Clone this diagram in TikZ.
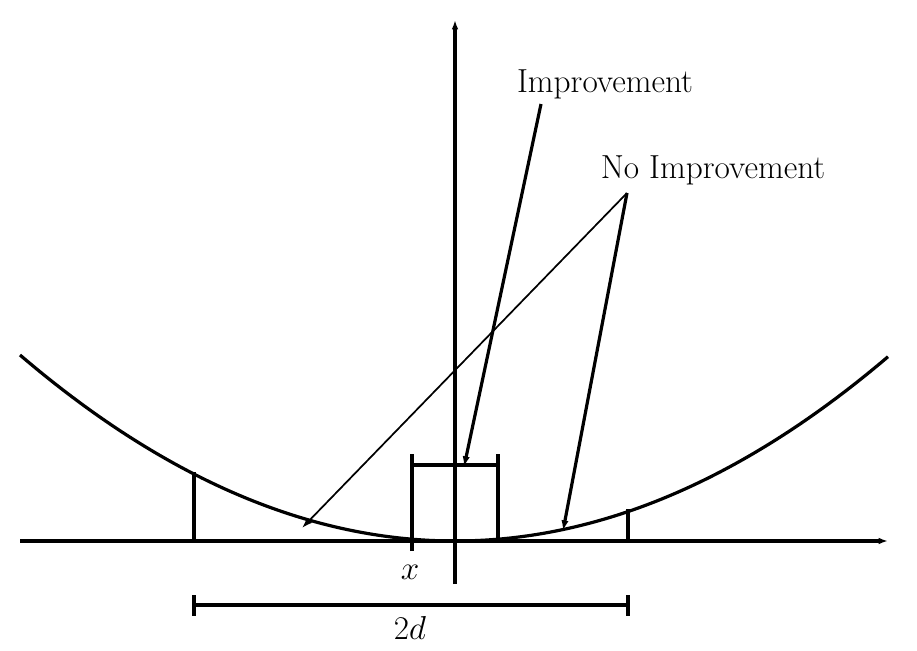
\documentclass[tikz,border=0pt]{standalone}
\usetikzlibrary{arrows.meta}
\begin{document}
\begin{tikzpicture}[x=0.75pt,y=-0.75pt,
  thickln/.style={line width=2.4pt},
  thinln/.style={line width=1.3pt},
  tip/.style={-{Latex[length=8pt,width=5.5pt]}},
  lbl/.style={inner sep=0pt,font=\fontsize{25}{30}\selectfont},
  mlbl/.style={inner sep=0pt,font=\fontsize{23.5}{28}\selectfont}]
\useasboundingbox (0,0) rectangle (917,650);
% axes
\draw[thickln,-{Latex[length=7pt,width=5pt]}] (20,541) -- (888,541);
\draw[thickln,-{Latex[length=7pt,width=5pt]}] (455,584) -- (455,20);
% parabola
\draw[thickln] plot[domain=20:888,samples=120] (\x,{541-186*((\x-455)/435)^2});
% verticals at +-d
\draw[thickln] (194,541) -- (194,472);
\draw[thickln] (628,541) -- (628,509);
% box
\draw[thickln] (412,551) -- (412,454);
\draw[thickln] (498,541) -- (498,454);
\draw[thickln] (412,465) -- (498,465);
% 2d bar
\draw[thickln] (194,605) -- (628,605);
\draw[thickln] (194,595) -- (194,616);
\draw[thickln] (628,595) -- (628,616);
\node[mlbl] (xl) at (410,572) {$x$};
\node[mlbl] (dl) at (410,628) {$2d$};
% labels
\node[lbl] (imp) at (605,84) {Improvement};
\node[lbl] (noimp) at (713,170) {No Improvement};
\coordinate (impS) at (541,104);
\coordinate (impE) at (464,467);
\coordinate (noS) at (627,193);
\coordinate (noE1) at (563,531);
\coordinate (noE2) at (302,528);
\draw[thickln,tip] (impS) -- (impE);
\draw[thickln,tip] (noS) -- (noE1);
\draw[thinln,tip] (noS) -- (noE2);
\end{tikzpicture}
\end{document}
